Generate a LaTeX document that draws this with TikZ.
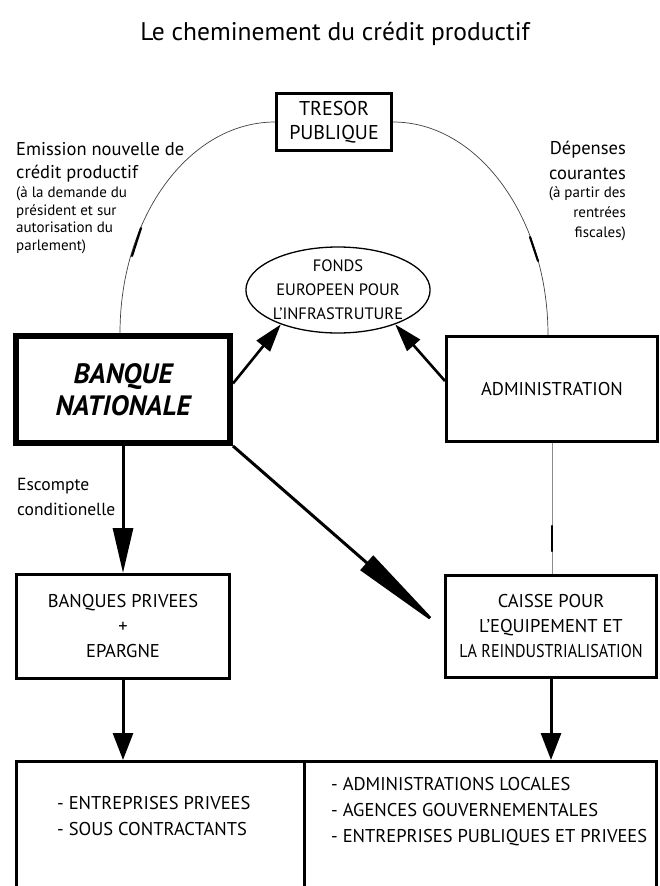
\documentclass[tikz,border=0pt]{standalone}
\usepackage{fontspec}
\usepackage{graphicx}
\setmainfont{PT Sans}
\usetikzlibrary{arrows.meta,calc,shapes.geometric}
\begin{document}
\begin{tikzpicture}[x=1pt,y=-1pt,
  box/.style={draw, rectangle, line width=3pt, inner sep=0pt, align=center,
    font=\fontsize{18.5}{25}\selectfont},
  curve/.style={draw=black!75, line width=0.7pt},
  thinline/.style={draw=black!45, line width=0.7pt},
  flowmark/.style={line width=2.2pt, line cap=round},
  bigarrow/.style={line width=3pt, -{Triangle[length=45pt,width=20pt]}},
  downarrow/.style={line width=3pt, -{Triangle[length=27pt,width=20pt]}},
  fondsarrow/.style={line width=2.6pt, -{Triangle[length=28pt,width=17pt]}},
  diagarrow/.style={line width=3pt, -{Triangle[length=100pt,width=19pt]}},
  biglbl/.style={inner sep=0pt, font=\fontsize{18.5}{23}\selectfont},
  smalllbl/.style={inner sep=0pt, font=\fontsize{15}{17}\selectfont},
  listtxt/.style={inner sep=0pt, align=left, font=\fontsize{18.5}{26}\selectfont}]
\useasboundingbox (0,0) rectangle (660,886);
\fill[white] (0,0) rectangle (660,886);
\clip (0,0) rectangle (660,886);

% title
\node[inner sep=0pt, font=\fontsize{25.5}{30}\selectfont] (title) at (335,34) {Le cheminement du crédit productif};

% boxes
\node[box, minimum width=115pt, minimum height=57pt, font=\fontsize{20}{24}\selectfont] (tresor) at (334,122) {TRESOR\\PUBLIQUE};
\node[draw, ellipse, line width=1.3pt, inner sep=0pt, minimum width=184pt, minimum height=86pt,
  align=center, font=\fontsize{16.5}{24}\selectfont] (fonds) at (338,290)
  {FONDS\\EUROPEEN POUR\\L'INFRASTRUTURE};
\node[box, line width=6pt, minimum width=214pt, minimum height=107pt,
  font=\fontsize{28}{32}\selectfont\bfseries\itshape] (banque) at (123,389.5) {BANQUE\\NATIONALE};
\node[box, minimum width=211pt, minimum height=105pt] (admin) at (552,389) {ADMINISTRATION};
\node[box, minimum width=213pt, minimum height=104pt] (bp) at (123,626.5) {BANQUES PRIVEES\\+\\EPARGNE};
\node[box, minimum width=211pt, minimum height=102pt] (caisse) at (551,626.5)
  {CAISSE POUR\\L'EQUIPEMENT ET\\\scalebox{0.87}[1]{LA REINDUSTRIALISATION}};
\node[box, anchor=north west, minimum width=287.5pt, minimum height=200pt] (lowL) at (15,760) {};
\node[box, anchor=north west, minimum width=352.5pt, minimum height=200pt] (lowR) at (302.5,760) {};
\node[listtxt, anchor=west] (ltxt) at (57,816) {- ENTREPRISES PRIVEES\\- SOUS CONTRACTANTS};
\node[listtxt, anchor=west] (rtxt) at (331,812)
  {- ADMINISTRATIONS LOCALES\\- AGENCES GOUVERNEMENTALES\\- ENTREPRISES PUBLIQUES ET PRIVEES};

% labels left
\node[biglbl, anchor=base west] (l1) at (16,155) {Emission nouvelle de};
\node[biglbl, anchor=base west] (l2) at (16,178) {crédit productif};
\node[smalllbl, anchor=base west] (l3) at (16,197) {(à la demande du};
\node[smalllbl, anchor=base west] (l4) at (16,215) {président et sur};
\node[smalllbl, anchor=base west] (l5) at (16,232) {autorisation du};
\node[smalllbl, anchor=base west] (l6) at (16,250) {parlement)};
% labels right
\node[biglbl, anchor=base east] (r1) at (626,154) {Dépenses};
\node[biglbl, anchor=base east] (r2) at (626,179) {courantes};
\node[smalllbl, anchor=base east] (r3) at (626,197) {(à partir des};
\node[smalllbl, anchor=base east] (r4) at (626,217) {rentrées};
\node[smalllbl, anchor=base east] (r5) at (626,237) {fiscales)};
% escompte
\node[inner sep=0pt, anchor=base west, font=\fontsize{17.5}{20}\selectfont] (e1) at (17,490) {Escompte};
\node[inner sep=0pt, anchor=base west, font=\fontsize{17.5}{20}\selectfont] (e2) at (17,515) {conditionelle};

% arcs
\coordinate (bn) at ($(banque.north)+(-3,0)$);
\coordinate (an) at ($(admin.north)+(-4,0)$);
\draw[curve] (tresor.west) .. controls ($(tresor.west)+(-85.6,0)$) and ($(bn)+(0,-116.5)$) .. (bn);
\draw[curve] (tresor.east) .. controls ($(tresor.east)+(85.6,0)$) and ($(an)+(0,-116.5)$) .. (an);
\draw[flowmark] (141,228) -- (132,256);
\draw[flowmark] (530,237) -- (538,261);

% admin - caisse
\draw[thinline] (admin.south) -- (admin.south |- caisse.north);
\draw[flowmark] (552,526) -- (552,551);

% arrows
\draw[fondsarrow] ([yshift=6pt]banque.east) -- (fonds.211);
\draw[fondsarrow] ([yshift=8pt]admin.west) -- (fonds.329);
\draw[bigarrow] (banque.south) -- (bp.north);
\draw[diagarrow] (banque.south east) -- ([xshift=-2pt,yshift=-2pt]caisse.west);
\draw[downarrow] (bp.south) -- (bp.south |- lowL.north);
\draw[downarrow] (caisse.south) -- (caisse.south |- lowR.north);
\end{tikzpicture}
\end{document}
